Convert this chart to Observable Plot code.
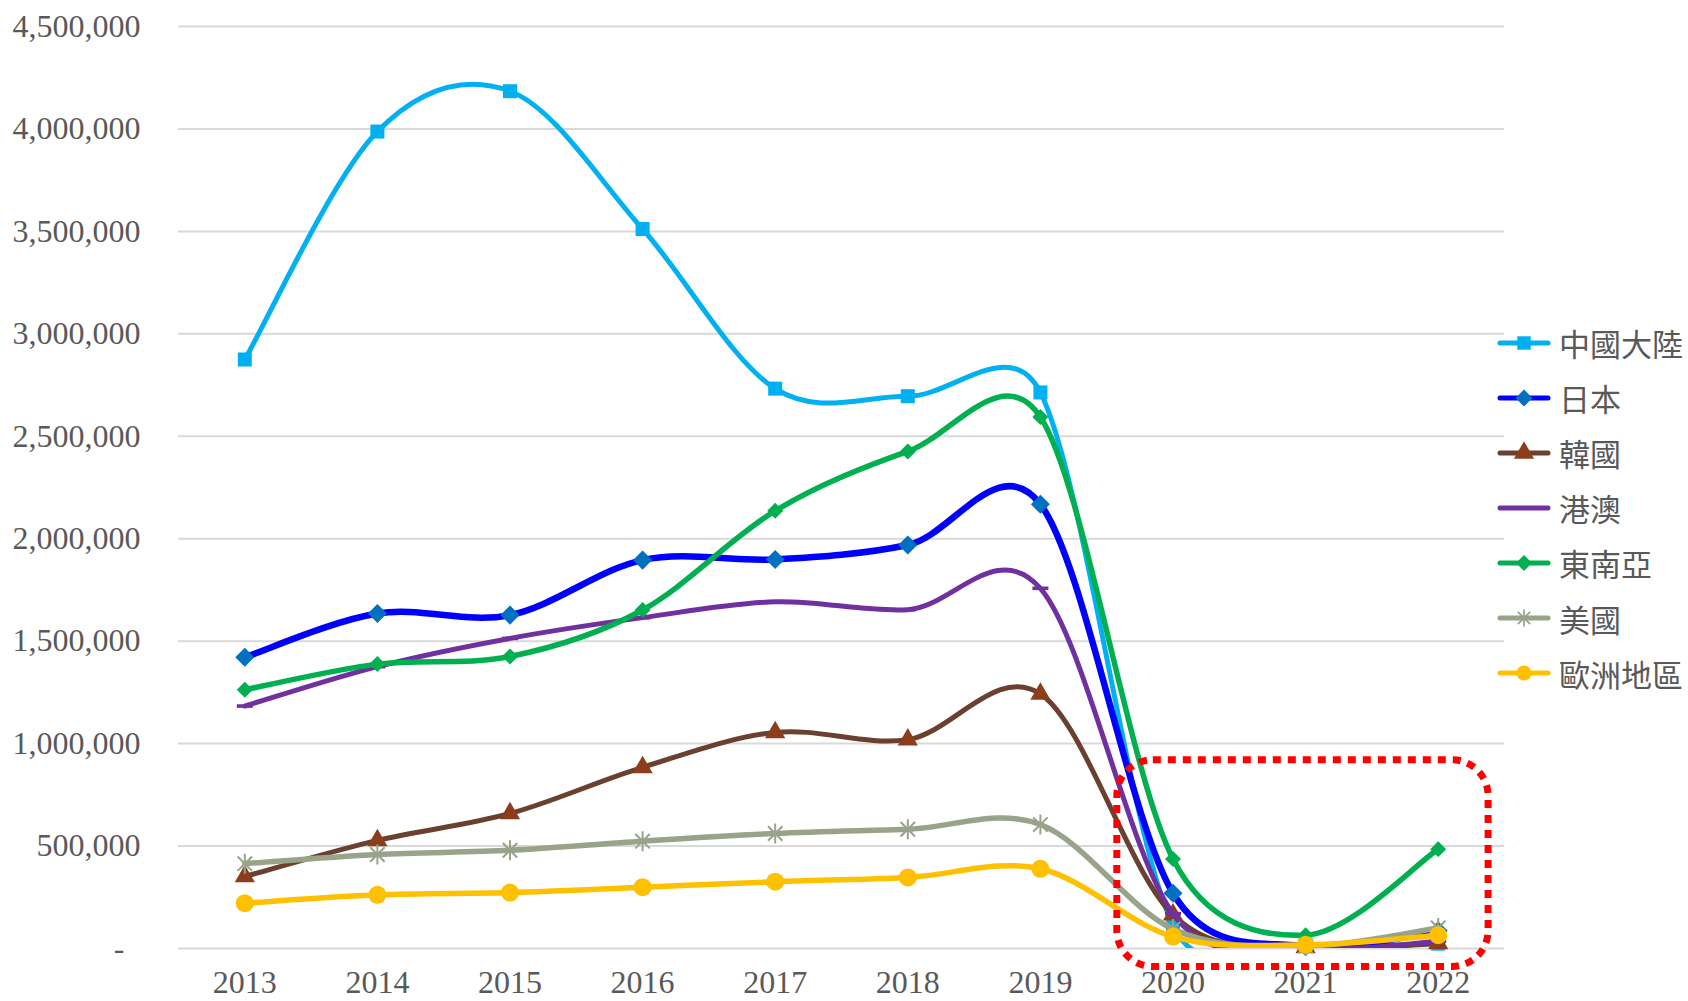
<!DOCTYPE html>
<html><head><meta charset="utf-8">
<script src="https://cdn.jsdelivr.net/npm/d3@7"></script>
<script src="https://cdn.jsdelivr.net/npm/@observablehq/plot@0.6"></script>
<style>
html,body{margin:0;padding:0;background:#fff;}
#wrap{position:relative;width:1688px;height:1001px;overflow:hidden;}
#legend{position:absolute;left:1496px;top:315px;font-family:"Noto Sans CJK TC","Noto Sans CJK SC",sans-serif;font-size:31px;color:#595959;}
.item{display:flex;align-items:center;height:55.1px;white-space:nowrap;}
.item svg{margin-right:7px;flex:none;}
</style></head><body><div id="wrap"><div id="chart"></div><div id="legend"></div></div>
<script>
// ---- data ----
const years = [2013, 2014, 2015, 2016, 2017, 2018, 2019, 2020, 2021, 2022];
const seriesNames = ["中國大陸", "日本", "韓國", "港澳", "東南亞", "美國", "歐洲地區"];
const china  = [2874702, 3987152, 4184102, 3511734, 2732549, 2695615, 2714065, 111050, 15500, 23600];
const japan  = [1421550, 1634790, 1627229, 1895702, 1898854, 1969151, 2167952, 269659, 10000, 87000];
const korea  = [351301, 527684, 658757, 884397, 1054708, 1019441, 1242598, 165000, 5000, 25000];
const hkmo   = [1183341, 1375770, 1513597, 1614803, 1692063, 1653654, 1758006, 170000, 3000, 35000];
const sea    = [1263000, 1388000, 1425000, 1652000, 2136000, 2426000, 2594000, 437000, 65000, 485000];
const usa    = [414060, 458691, 479452, 523888, 561365, 581896, 605026, 95000, 12000, 100000];
const europe = [221000, 262000, 273000, 299000, 326000, 347000, 389000, 58000, 18000, 65000];
const yTicks = [0, 500000, 1000000, 1500000, 2000000, 2500000, 3000000, 3500000, 4000000, 4500000];
// highlighted region (years / visitors)
const highlightYears = [2019.58, 2022.38];
const highlightValues = [-90000, 919000];

// ---- spreadsheet-style smoothed curve (Bezier, 1/6 handles, limited to half segment) ----
function SmoothCurve(context) { this._context = context; }
SmoothCurve.prototype = {
  areaStart() {}, areaEnd() {},
  lineStart() { this._pts = []; },
  point(x, y) { this._pts.push([+x, +y]); },
  lineEnd() {
    const p = this._pts, n = p.length, c = this._context;
    if (!n) return;
    c.moveTo(p[0][0], p[0][1]);
    if (n === 2) { c.lineTo(p[1][0], p[1][1]); return; }
    for (let i = 0; i < n - 1; i++) {
      const p0 = p[Math.max(i - 1, 0)], p1 = p[i], p2 = p[i + 1], p3 = p[Math.min(i + 2, n - 1)];
      const lim = 0.5 * Math.hypot(p2[0] - p1[0], p2[1] - p1[1]);
      let ax = (p2[0] - p0[0]) / 6, ay = (p2[1] - p0[1]) / 6;
      let bx = (p3[0] - p1[0]) / 6, by = (p3[1] - p1[1]) / 6;
      const la = Math.hypot(ax, ay), lb = Math.hypot(bx, by);
      if (la > lim) { ax *= lim / la; ay *= lim / la; }
      if (lb > lim) { bx *= lim / lb; by *= lim / lb; }
      c.bezierCurveTo(p1[0] + ax, p1[1] + ay, p2[0] - bx, p2[1] - by, p2[0], p2[1]);
    }
  }
};
const curveSmooth = ctx => new SmoothCurve(ctx);

// ---- styles ----
const dashSymbol = {draw(ctx) { ctx.rect(-8, -1.8, 16, 3.6); }};
const starSymbol = {draw(ctx) {
  const r = 10, d = 7.2;
  ctx.moveTo(0, -r); ctx.lineTo(0, r);
  ctx.moveTo(-d, -d); ctx.lineTo(d, d);
  ctx.moveTo(-d, d); ctx.lineTo(d, -d);
}};
const styles = [
  {values: china,  line: "#00B0F0", marker: "#00B0F0", width: 5.0, symbol: "square",   r: 7.9, stroked: false},
  {values: japan,  line: "#0000FF", marker: "#0070C0", width: 6.5, symbol: "diamond2", r: 8.6, stroked: false},
  {values: korea,  line: "#6A4130", marker: "#8C3E1C", width: 5.0, symbol: "triangle", r: 7.5, stroked: false},
  {values: hkmo,   line: "#7030A0", marker: "#7030A0", width: 5.0, symbol: dashSymbol, r: 7.0, stroked: false, noLegendMarker: true},
  {values: sea,    line: "#00B050", marker: "#00B050", width: 5.5, symbol: "diamond2", r: 7.2, stroked: false},
  {values: usa,    line: "#98A38A", marker: "#98A38A", width: 5.5, symbol: starSymbol, r: 8.0, stroked: true},
  {values: europe, line: "#FFC000", marker: "#FFC000", width: 5.5, symbol: "circle",   r: 9.0, stroked: false}
];

const fmt = d3.format(",");
const marks = [
  Plot.ruleY(yTicks, {stroke: "#D9D9D9", strokeWidth: 2}),
  Plot.axisY({ticks: yTicks, tickSize: 0, tickPadding: 38,
    tickFormat: d => d === 0 ? "-\u00a0\u00a0" : fmt(d)}),
  Plot.axisX({ticks: years, tickSize: 0, tickPadding: 22, tickFormat: d => String(d)})
];
styles.forEach((s, k) => {
  const rows = years.map((y, i) => ({year: y, value: s.values[i], name: seriesNames[k]}));
  marks.push(Plot.line(rows, {x: "year", y: "value", stroke: s.line, strokeWidth: s.width,
    curve: curveSmooth, clip: true, strokeLinecap: "round", strokeLinejoin: "round"}));
  marks.push(Plot.dot(rows, {x: "year", y: "value", symbol: s.symbol, r: s.r,
    fill: s.stroked ? "none" : s.marker, stroke: s.stroked ? s.marker : "none", strokeWidth: 2}));
});
marks.push(Plot.rect([{x1: highlightYears[0], x2: highlightYears[1], y1: highlightValues[0], y2: highlightValues[1]}],
  {x1: "x1", x2: "x2", y1: "y1", y2: "y2", rx: 36, ry: 36, fill: "none", stroke: "#FF0000",
   strokeWidth: 7, strokeDasharray: "8 7"}));

const chart = Plot.plot({
  width: 1688, height: 1001,
  marginLeft: 178, marginRight: 184, marginTop: 26, marginBottom: 53,
  style: {fontFamily: "'Liberation Serif', serif", fontSize: "32px", color: "#595959", background: "#fff", overflow: "visible"},
  x: {type: "linear", domain: [2012.5, 2022.5]},
  y: {domain: [0, 4500000]},
  marks
});
document.getElementById("chart").appendChild(chart);

// ---- legend ----
const legend = d3.select("#legend");
styles.forEach((s, k) => {
  const item = legend.append("div").attr("class", "item");
  const svg = item.append("svg").attr("width", 56).attr("height", 30);
  svg.append("line").attr("x1", 4).attr("x2", 52).attr("y1", 15).attr("y2", 15)
    .attr("stroke", s.line).attr("stroke-width", 5).attr("stroke-linecap", "round");
  if (!s.noLegendMarker) {
    const symType = typeof s.symbol === "string"
      ? {square: d3.symbolSquare, diamond2: d3.symbolDiamond2, triangle: d3.symbolTriangle, circle: d3.symbolCircle}[s.symbol]
      : s.symbol;
    const lr = Math.min(s.r, 7.6);
    svg.append("path").attr("transform", typeof s.symbol === "string" ? "translate(28,15)" : "translate(28,15) scale(0.85)")
      .attr("d", d3.symbol(symType, Math.PI * lr * lr)())
      .attr("fill", s.stroked ? "none" : s.marker)
      .attr("stroke", s.stroked ? s.marker : "none").attr("stroke-width", 2);
  }
  item.append("span").text(seriesNames[k]);
});
</script>
</body></html>
